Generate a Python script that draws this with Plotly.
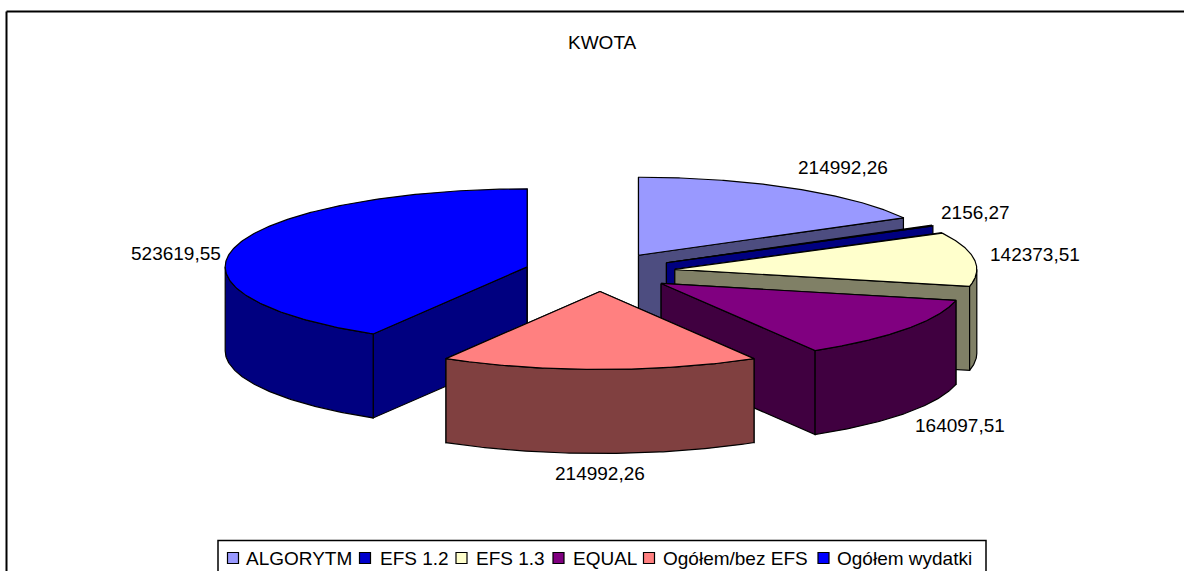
import numpy as np
import plotly.graph_objects as go

categories = ["ALGORYTM", "EFS 1.2", "EFS 1.3", "EQUAL", "Ogółem/bez EFS", "Ogółem wydatki"]
values = [214992.26, 2156.27, 142373.51, 164097.51, 214992.26, 523619.55]
value_labels = ["214992,26", "2156,27", "142373,51", "164097,51", "214992,26", "523619,55"]

top_colors = ["#9999FF", "#0000CC", "#FFFFCC", "#800080", "#FF8080", "#0000FF"]
side_colors = ["#4D4D80", "#000080", "#808066", "#400040", "#804040", "#000080"]
draw_order = [0, 1, 2, 3, 5, 4]   # back to front

W, H = 1184, 571
CX, CY = 600.0, 272.0     # pie centre
RX, RY = 302.0, 78.0      # ellipse radii
DEPTH = 84.0              # extrusion
EXPLODE = 0.25
LINE = "#000000"
LW = 1.2
FONT = "Liberation Sans, Arial, sans-serif"
FS = 19
LEG_FS = 19

label_xy = [(843, 167), (975, 212), (1035, 254), (960, 425), (600, 473), (176, 253)]
legend_swatch_x = [233, 365, 461.5, 558.5, 649, 823.5]
legend_text_x = [244, 378, 474, 571, 661, 835]
LEG_Y = 558

fig = go.Figure()


def poly(xs, ys, fill):
    fig.add_trace(go.Scatter(
        x=xs, y=ys, mode="lines", fill="toself", fillcolor=fill,
        line=dict(color=LINE, width=LW, shape="linear"),
        hoverinfo="skip", showlegend=False))


total = sum(values)
fractions = np.cumsum([0.0] + values) / total
for i in draw_order:
    a0 = fractions[i] * 2 * np.pi
    a1 = fractions[i + 1] * 2 * np.pi
    top, side = top_colors[i], side_colors[i]
    mid = (a0 + a1) / 2
    cx = CX + EXPLODE * RX * np.sin(mid)
    cy = CY - EXPLODE * RY * np.cos(mid)
    px = lambda t: cx + RX * np.sin(t)
    py = lambda t: cy - RY * np.cos(t)

    # radial walls
    for a in (a0, a1):
        poly([cx, px(a), px(a), cx, cx], [cy, py(a), py(a) + DEPTH, cy + DEPTH, cy], side)

    # outer wall: only the part of the rim that faces the viewer
    lo, hi = max(a0, np.pi / 2), min(a1, 3 * np.pi / 2)
    if hi > lo:
        t = np.linspace(lo, hi, 90)
        xs = np.concatenate([px(t), px(t[::-1]), [px(t[0])]])
        ys = np.concatenate([py(t), py(t[::-1]) + DEPTH, [py(t[0])]])
        poly(xs, ys, side)

    # top face
    t = np.linspace(a0, a1, 200)
    poly(np.concatenate([[cx], px(t), [cx]]), np.concatenate([[cy], py(t), [cy]]), top)

annotations = [dict(x=x, y=y, text=s, showarrow=False, xanchor="center", yanchor="middle",
                    font=dict(family=FONT, size=FS, color="#000"))
               for (x, y), s in zip(label_xy, value_labels)]
annotations.append(dict(x=602, y=42, text="KWOTA", showarrow=False, xanchor="center", yanchor="middle",
                        font=dict(family=FONT, size=FS, color="#000")))
for name, x in zip(categories, legend_text_x):
    annotations.append(dict(x=x, y=LEG_Y, text=name, showarrow=False, xanchor="left", yanchor="middle",
                            font=dict(family=FONT, size=LEG_FS, color="#000")))

# legend swatches
for name, x, c in zip(categories, legend_swatch_x, top_colors):
    fig.add_trace(go.Scatter(x=[x], y=[LEG_Y], mode="markers", name=name, showlegend=False, hoverinfo="skip",
                             marker=dict(symbol="square", size=11, color=c, line=dict(color="#000", width=1.2))))

shapes = [
    dict(type="line", x0=6.5, x1=6.5, y0=11.5, y1=H + 5, line=dict(color="#000", width=2)),
    dict(type="line", x0=6.5, x1=W + 5, y0=11.5, y1=11.5, line=dict(color="#000", width=2)),
    dict(type="rect", x0=218, x1=986, y0=540.5, y1=H + 5, line=dict(color="#000", width=1.5), layer="below"),
]

fig.update_layout(
    width=W, height=H, margin=dict(l=0, r=0, t=0, b=0), paper_bgcolor="#fff", plot_bgcolor="#fff",
    xaxis=dict(range=[0, W], visible=False, fixedrange=True),
    yaxis=dict(range=[H, 0], visible=False, fixedrange=True),
    shapes=shapes, annotations=annotations, showlegend=False,
)
fig.write_html("out.html", config=dict(displayModeBar=False),
               post_script="document.body.style.margin='0';document.body.style.overflow='hidden';")
